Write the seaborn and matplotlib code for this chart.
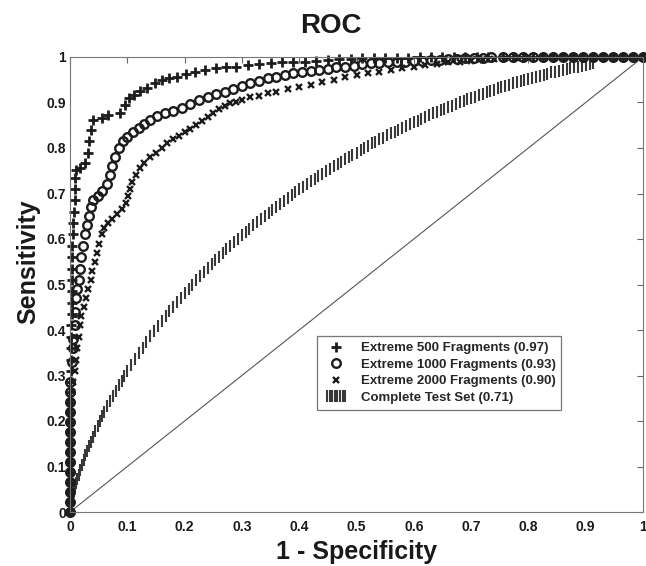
import matplotlib
matplotlib.use("Agg")
import matplotlib.pyplot as plt
import seaborn as sns
import pandas as pd
from matplotlib.legend_handler import HandlerLine2D

# ---------------- data ----------------
ext500_fpr = [0, 0, 0, 0, 0, 0, 0, 0, 0, 0, 0, 0, 0, 0,
              0.002, 0.002, 0.002, 0.002, 0.002, 0.003, 0.003, 0.003, 0.003, 0.003, 0.003,
              0.004, 0.005, 0.006, 0.007, 0.008, 0.008, 0.009, 0.010,
              0.018, 0.026, 0.031, 0.034, 0.037, 0.041, 0.055, 0.067, 0.087, 0.096, 0.103, 0.112,
              0.122, 0.134, 0.148, 0.160, 0.172, 0.186, 0.202, 0.218, 0.236, 0.254, 0.272, 0.290,
              0.310, 0.330, 0.350, 0.370, 0.390, 0.410, 0.430, 0.450, 0.470, 0.490, 0.510, 0.530,
              0.550, 0.570, 0.590, 0.610, 0.630, 0.650, 0.670, 0.690, 0.710, 0.730,
              0.755, 0.773, 0.790, 0.808, 0.825, 0.843, 0.860, 0.878, 0.895, 0.913, 0.930, 0.948,
              0.965, 0.983, 1.000]
ext500_tpr = [0, 0.022, 0.044, 0.066, 0.088, 0.110, 0.132, 0.154, 0.176, 0.198, 0.220, 0.242, 0.264, 0.286,
              0.310, 0.335, 0.360, 0.385, 0.410, 0.435, 0.460, 0.485, 0.510, 0.535, 0.560,
              0.585, 0.610, 0.635, 0.660, 0.685, 0.710, 0.735, 0.752,
              0.755, 0.766, 0.790, 0.815, 0.840, 0.862, 0.866, 0.873, 0.877, 0.895, 0.910, 0.917,
              0.925, 0.932, 0.943, 0.950, 0.953, 0.956, 0.963, 0.967, 0.971, 0.975, 0.978, 0.979,
              0.982, 0.985, 0.986, 0.988, 0.990, 0.990, 0.991, 0.993, 0.995, 0.996, 0.997, 0.997,
              0.998, 0.998, 0.998, 0.999, 0.999, 0.999, 1.0, 1.0, 1.0, 1.0,
              1, 1, 1, 1, 1, 1, 1, 1, 1, 1, 1, 1, 1, 1, 1]

ext1000_fpr = [0, 0, 0, 0, 0, 0, 0, 0, 0, 0, 0, 0, 0, 0,
               0.003, 0.005, 0.006, 0.008, 0.009, 0.011, 0.013, 0.015, 0.017, 0.020,
               0.023, 0.026, 0.029, 0.033, 0.037, 0.041, 0.048, 0.056, 0.064, 0.069,
               0.074, 0.079, 0.085, 0.092, 0.100, 0.110, 0.120, 0.130, 0.140, 0.152,
               0.165, 0.180, 0.195, 0.210, 0.225,
               0.240, 0.255, 0.270, 0.285, 0.300, 0.315, 0.330, 0.345, 0.360, 0.375, 0.390, 0.405,
               0.420, 0.435, 0.450, 0.465, 0.480, 0.495, 0.510, 0.525, 0.540, 0.555, 0.570, 0.585,
               0.600, 0.615, 0.630, 0.645, 0.660, 0.675, 0.690, 0.705, 0.720, 0.735,
               0.755, 0.773, 0.790, 0.808, 0.825, 0.843, 0.860, 0.878, 0.895, 0.913, 0.930, 0.948,
               0.965, 0.983, 1.000]
ext1000_tpr = [0, 0.022, 0.044, 0.066, 0.088, 0.110, 0.132, 0.154, 0.176, 0.198, 0.220, 0.242, 0.264, 0.286,
               0.330, 0.360, 0.380, 0.410, 0.440, 0.470, 0.490, 0.510, 0.535, 0.560,
               0.585, 0.610, 0.630, 0.650, 0.670, 0.685, 0.695, 0.705, 0.720, 0.740,
               0.760, 0.780, 0.800, 0.815, 0.825, 0.835, 0.845, 0.853, 0.862, 0.870,
               0.876, 0.882, 0.888, 0.897, 0.905,
               0.912, 0.918, 0.924, 0.930, 0.937, 0.943, 0.948, 0.953, 0.957, 0.961, 0.965, 0.968,
               0.970, 0.971, 0.974, 0.977, 0.979, 0.981, 0.984, 0.986, 0.986, 0.988, 0.990, 0.990,
               0.991, 0.992, 0.993, 0.994, 0.995, 0.996, 0.997, 0.998, 0.998, 0.999,
               1, 1, 1, 1, 1, 1, 1, 1, 1, 1, 1, 1, 1, 1, 1]

ext2000_fpr = [0, 0, 0, 0, 0, 0, 0, 0, 0, 0, 0, 0,
               0.003, 0.006, 0.008, 0.010, 0.013, 0.015, 0.017, 0.020, 0.024, 0.028,
               0.032, 0.036, 0.039, 0.043, 0.047, 0.051, 0.055, 0.060, 0.066, 0.074,
               0.082, 0.090, 0.097, 0.101, 0.105, 0.109, 0.115, 0.122, 0.130, 0.140,
               0.150, 0.160, 0.170, 0.180, 0.190, 0.200, 0.210, 0.220, 0.230, 0.240,
               0.250, 0.260, 0.270, 0.280, 0.290, 0.300,
               0.315, 0.330, 0.345, 0.360,
               0.380, 0.400, 0.420, 0.440, 0.460, 0.480, 0.500, 0.520, 0.540, 0.560, 0.580,
               0.600, 0.620, 0.640, 0.660, 0.680, 0.700, 0.720, 0.740, 0.760, 0.780, 0.800,
               0.825, 0.843, 0.860, 0.878, 0.895, 0.913, 0.930, 0.948, 0.965, 0.983, 1.000]
ext2000_tpr = [0, 0.022, 0.044, 0.066, 0.088, 0.110, 0.132, 0.154, 0.176, 0.198, 0.220, 0.242,
               0.264, 0.286, 0.310, 0.335, 0.360, 0.385, 0.410, 0.430, 0.450, 0.470,
               0.490, 0.510, 0.530, 0.550, 0.570, 0.590, 0.610, 0.625, 0.635, 0.645,
               0.655, 0.665, 0.680, 0.695, 0.710, 0.725, 0.740, 0.755, 0.768, 0.780,
               0.790, 0.800, 0.810, 0.820, 0.827, 0.835, 0.842, 0.850, 0.860, 0.868,
               0.878, 0.886, 0.893, 0.898, 0.902, 0.906,
               0.911, 0.915, 0.920, 0.924,
               0.929, 0.934, 0.938, 0.944, 0.950, 0.955, 0.960, 0.964, 0.968, 0.972, 0.976,
               0.979, 0.982, 0.985, 0.988, 0.990, 0.992, 0.994, 0.995, 0.997, 0.998, 0.999,
               1, 1, 1, 1, 1, 1, 1, 1, 1, 1, 1]

full_fpr = [0, 0.001, 0.002, 0.003, 0.004, 0.005, 0.007, 0.009, 0.011, 0.013, 0.015, 0.018,
            0.021, 0.024, 0.027, 0.030, 0.033, 0.036, 0.040, 0.044, 0.048, 0.052, 0.056,
            0.060, 0.065, 0.070, 0.075, 0.080, 0.085, 0.090, 0.095,
            0.100, 0.107, 0.113, 0.120, 0.127, 0.133, 0.140, 0.147, 0.153, 0.160, 0.167, 0.173,
            0.180, 0.187, 0.193, 0.200, 0.207, 0.213, 0.220, 0.227, 0.233, 0.240, 0.247, 0.253,
            0.260, 0.267, 0.273, 0.280, 0.287, 0.293, 0.300, 0.307, 0.313, 0.320, 0.327, 0.333,
            0.340, 0.347, 0.353, 0.360, 0.367, 0.373, 0.380, 0.387, 0.393, 0.400, 0.407, 0.413,
            0.420, 0.427, 0.433, 0.440, 0.447, 0.453, 0.460, 0.467, 0.473, 0.480, 0.487, 0.493,
            0.500, 0.507, 0.513, 0.520, 0.527, 0.533, 0.540, 0.547, 0.553, 0.560, 0.567, 0.573,
            0.580, 0.587, 0.593, 0.600, 0.607, 0.613, 0.620, 0.627, 0.633, 0.640, 0.647, 0.653,
            0.660, 0.667, 0.673, 0.680, 0.687, 0.693, 0.700, 0.707, 0.713, 0.720, 0.727, 0.733,
            0.740, 0.747, 0.753, 0.760, 0.767, 0.773, 0.780, 0.787, 0.793, 0.800, 0.807, 0.813,
            0.820, 0.827, 0.833, 0.840, 0.847, 0.853, 0.860, 0.867, 0.873, 0.880, 0.887, 0.893,
            0.900, 0.907, 0.913]
full_tpr = [0, 0.010, 0.017, 0.024, 0.029, 0.035, 0.045, 0.055, 0.064, 0.073, 0.081, 0.093,
            0.104, 0.115, 0.125, 0.135, 0.144, 0.153, 0.165, 0.177, 0.188, 0.199, 0.210,
            0.220, 0.232, 0.244, 0.256, 0.267, 0.279, 0.289, 0.300,
            0.310, 0.323, 0.336, 0.349, 0.361, 0.374, 0.386, 0.397, 0.408, 0.420, 0.430, 0.441,
            0.451, 0.461, 0.471, 0.481, 0.490, 0.500, 0.509, 0.518, 0.527, 0.536, 0.544, 0.553,
            0.561, 0.569, 0.577, 0.585, 0.593, 0.600, 0.608, 0.615, 0.623, 0.630, 0.637, 0.644,
            0.651, 0.658, 0.664, 0.671, 0.678, 0.684, 0.691, 0.697, 0.703, 0.709, 0.715, 0.721,
            0.727, 0.732, 0.738, 0.743, 0.749, 0.754, 0.760, 0.765, 0.770, 0.775, 0.780, 0.785,
            0.790, 0.795, 0.800, 0.805, 0.810, 0.814, 0.819, 0.823, 0.828, 0.832, 0.836, 0.840,
            0.845, 0.849, 0.853, 0.857, 0.860, 0.864, 0.868, 0.872, 0.876, 0.879, 0.883, 0.886,
            0.890, 0.893, 0.897, 0.900, 0.904, 0.907, 0.910, 0.913, 0.916, 0.919, 0.922, 0.925,
            0.928, 0.931, 0.934, 0.937, 0.939, 0.942, 0.944, 0.947, 0.949, 0.952, 0.954, 0.957,
            0.959, 0.961, 0.963, 0.966, 0.968, 0.970, 0.972, 0.974, 0.976, 0.977, 0.979, 0.981,
            0.983, 0.984, 0.986]

chance_line = [0, 1]

series_labels = ["Extreme 500 Fragments (0.97)", "Extreme 1000 Fragments (0.93)",
                 "Extreme 2000 Fragments (0.90)", "Complete Test Set (0.71)"]
tick_values = [0, 0.1, 0.2, 0.3, 0.4, 0.5, 0.6, 0.7, 0.8, 0.9, 1]
tick_labels = ["0", "0.1", "0.2", "0.3", "0.4", "0.5", "0.6", "0.7", "0.8", "0.9", "1"]

for a, b in [(ext500_fpr, ext500_tpr), (ext1000_fpr, ext1000_tpr),
             (ext2000_fpr, ext2000_tpr), (full_fpr, full_tpr)]:
    assert len(a) == len(b), (len(a), len(b))

# ---------------- style ----------------
sns.set_style("white")
plt.rcParams['font.family'] = ['Liberation Sans', 'DejaVu Sans']
plt.rcParams['font.weight'] = 'bold'

fig = plt.figure(figsize=(6.46, 5.66), dpi=100)
ax = fig.add_axes([70 / 646, 1 - 512 / 566, 573 / 646, 455 / 566])

ink = "#1c1c1c"

sns.lineplot(x=chance_line, y=chance_line, ax=ax, color="#555555", linewidth=0.8,
             estimator=None, sort=False)

sns.lineplot(x=full_fpr, y=full_tpr, ax=ax, estimator=None, sort=False,
             linestyle="none", marker="|", markersize=8, markeredgewidth=1.5,
             color="#383838", markeredgecolor="#383838", label=series_labels[3])
h_full = ax.lines[-1]

sns.lineplot(x=ext2000_fpr, y=ext2000_tpr, ax=ax, estimator=None, sort=False,
             linestyle="none", marker="x", markersize=4.8, markeredgewidth=1.7,
             color=ink, markeredgecolor=ink, label=series_labels[2])
h2000 = ax.lines[-1]

sns.lineplot(x=ext1000_fpr, y=ext1000_tpr, ax=ax, estimator=None, sort=False,
             linestyle="none", marker="o", markersize=6.2, markeredgewidth=1.7,
             markerfacecolor="none", color=ink, markeredgecolor=ink, label=series_labels[1])
h1000 = ax.lines[-1]

sns.lineplot(x=ext500_fpr, y=ext500_tpr, ax=ax, estimator=None, sort=False,
             linestyle="none", marker="+", markersize=6.5, markeredgewidth=2.0,
             color=ink, markeredgecolor=ink, label=series_labels[0])
h500 = ax.lines[-1]

for ln in ax.lines:
    ln.set_clip_on(False)

ax.set_xlim(0, 1)
ax.set_ylim(0, 1)
ax.set_xticks(tick_values, tick_labels)
ax.set_yticks(tick_values, tick_labels)
ax.tick_params(axis="both", direction="in", length=4, width=0.8, colors="#666666",
               labelcolor="#1a1a1a", labelsize=10, top=True, right=True)
ax.tick_params(axis="x", pad=5.5)
ax.tick_params(axis="y", pad=3)
for lab in ax.get_xticklabels() + ax.get_yticklabels():
    lab.set_fontweight("bold")
for sp in ax.spines.values():
    sp.set_visible(True)
    sp.set_color("#777777")
    sp.set_linewidth(0.8)

ax.set_title("ROC", x=(331 - 70) / 573, y=(512 - 33) / 455, va="baseline", pad=0,
             fontsize=20, fontweight="bold", color="#1a1a1a")
ax.set_xlabel("1 - Specificity", fontsize=18, fontweight="bold", color="#1a1a1a")
ax.xaxis.label.set_va("baseline")
ax.xaxis.set_label_coords(0.5, (512 - 559) / 455)
ax.set_ylabel("Sensitivity", fontsize=18, fontweight="bold", color="#1a1a1a")
ax.yaxis.set_label_coords((40 - 70) / 573, 0.55)

leg = ax.legend(handles=[h500, h1000, h2000, h_full], labels=series_labels,
                loc="upper left", bbox_to_anchor=((317 - 70) / 573, (512 - 336) / 455),
                borderaxespad=0, frameon=True, fancybox=False, edgecolor="#777777",
                framealpha=1, prop={"weight": "bold", "size": 9.5}, handlelength=2.0,
                handletextpad=0.85, labelspacing=0.33, borderpad=0.45, numpoints=1,
                handler_map={h_full: HandlerLine2D(numpoints=8)})
leg.get_frame().set_linewidth(0.9)

fig.savefig("out.png", dpi=100)
